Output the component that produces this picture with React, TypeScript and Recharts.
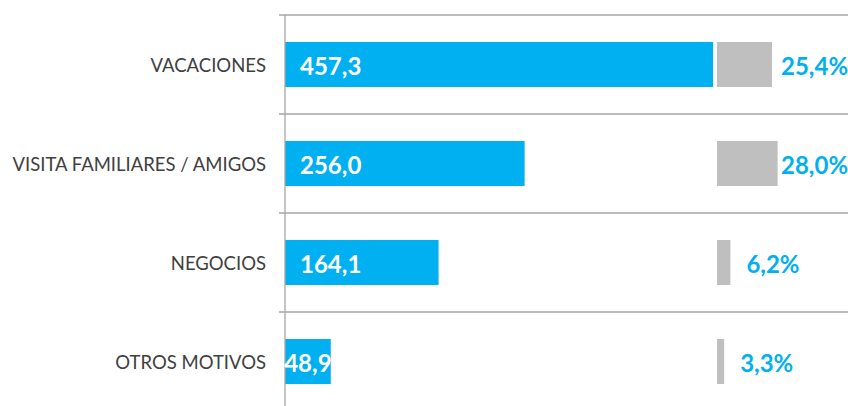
import React from "react";
import {
    BarChart,
    Bar,
    XAxis,
    YAxis,
    CartesianGrid,
    LabelList
} from "recharts";

const categories = ["VACACIONES", "VISITA FAMILIARES / AMIGOS", "NEGOCIOS", "OTROS MOTIVOS"];
const values = [457.3, 256.0, 164.1, 48.9];
const shares = [25.4, 28.0, 6.2, 3.3];

const data = categories.map((motivo, i) => ({ motivo, value: values[i], share: shares[i] }));

const BLUE = "#00B0F0";
const GREY = "#BFBFBF";
const FONT = "Lato, 'Open Sans', sans-serif";

const ValueLabel = (props: any) => {
    const { x, y, width, height, value } = props;
    const text = Number(value).toFixed(1).replace(".", ",");
    const narrow = width < 80;
    return (
        <text
            x={narrow ? x + width / 2 : x + 15}
            y={y + height / 2 + 1}
            textAnchor={narrow ? "middle" : "start"}
            dominantBaseline="central"
            fill="#fff"
            fontFamily={FONT}
            fontWeight={700}
            fontSize={24}
        >
            {text}
        </text>
    );
};

// Excel-style: label sits right of the bar, but is kept inside the chart area
const ShareLabel = (props: any) => {
    const { x, y, width, height, value } = props;
    const text = Number(value).toFixed(1).replace(".", ",") + "%";
    const textW = text.length * 12.8;
    const start = Math.min(x + width + 16, 845 - textW);
    return (
        <text
            x={start}
            y={y + height / 2 + 1}
            textAnchor="start"
            dominantBaseline="central"
            fill={BLUE}
            fontFamily={FONT}
            fontWeight={700}
            fontSize={24}
        >
            {text}
        </text>
    );
};

const CategoryTick = (props: any) => {
    const { x, y, payload } = props;
    return (
        <text
            x={x - 11}
            y={y}
            textAnchor="end"
            dominantBaseline="central"
            fill="#404040"
            fontFamily={FONT}
            fontSize={18.5}
        >
            {payload.value}
        </text>
    );
};

const App: React.FC = () => {
    return (
        <div style={{ position: "absolute", left: 0, top: 0 }}>
            <BarChart
                width={848}
                height={411}
                data={data}
                layout="vertical"
                margin={{ top: 15, right: 0, left: 0, bottom: 0 }}
                barGap={-45}
            >
                <CartesianGrid
                    vertical={false}
                    horizontalCoordinatesGenerator={({ offset }: any) =>
                        [0, 1, 2, 3, 4].map((i) => offset.top + (i * offset.height) / 4)
                    }
                    horizontal={(p: any) => (
                        <line
                            key={p.key}
                            x1={p.x1 - 6}
                            x2={p.x2}
                            y1={p.y1}
                            y2={p.y2}
                            stroke="#A6A6A6"
                            strokeWidth={1.3}
                        />
                    )}
                />
                <XAxis xAxisId="a" type="number" domain={[0, 601.5]} allowDataOverflow hide />
                <XAxis xAxisId="b" type="number" domain={[-199.5, 60.5]} allowDataOverflow hide />
                <YAxis
                    type="category"
                    dataKey="motivo"
                    width={285}
                    tickLine={false}
                    axisLine={{ stroke: "#A6A6A6", strokeWidth: 1.3 }}
                    tick={<CategoryTick />}
                    interval={0}
                />
                <Bar xAxisId="a" dataKey="value" fill={BLUE} barSize={45} isAnimationActive={false}>
                    <LabelList dataKey="value" content={<ValueLabel />} />
                </Bar>
                <Bar xAxisId="b" dataKey="share" fill={GREY} barSize={45} isAnimationActive={false}>
                    <LabelList dataKey="share" content={<ShareLabel />} />
                </Bar>
            </BarChart>
        </div>
    );
};

export default App;
